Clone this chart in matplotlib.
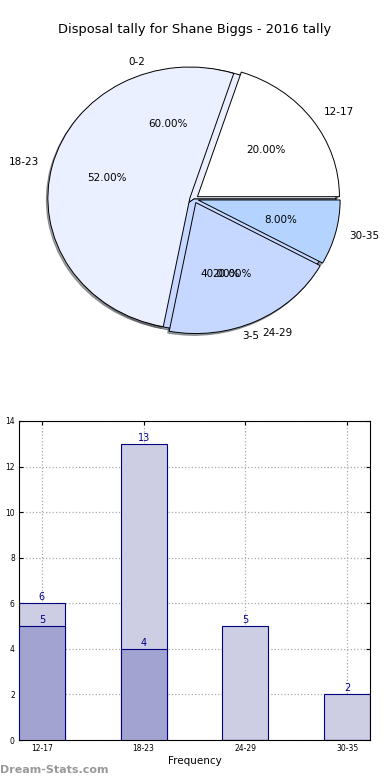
import matplotlib
matplotlib.use("Agg")
import matplotlib.pyplot as plt
import numpy as np

title = "Disposal tally for Shane Biggs - 2016 tally"

# inner pie (hidden underneath)
inner_labels = ["0-2", "3-5"]
inner_sizes = [60, 40]

# outer pie
outer_labels = ["12-17", "18-23", "24-29", "30-35"]
outer_sizes = [20, 52, 20, 8]
pie_colors = ["#ffffff", "#eaf0ff", "#c6d8ff", "#b4d4ff"]

# bars
categories = ["12-17", "18-23", "24-29", "30-35"]
tally_light = [6, 13, 5, 2]
tally_dark = [5, 4, 0, 0]

fig = plt.figure(figsize=(3.9, 7.8), dpi=100)
fig.text(0.5, 1 - 30 / 780, title, ha="center", va="center", fontsize=9.4)

# ---- pie ----
W, H = 390.0, 780.0
cx, cy = 194, 199
rx, ry = 142, 131
lim = 1.2
ax1 = fig.add_axes([(cx - lim * rx) / W, (H - cy - lim * ry) / H,
                    2 * lim * rx / W, 2 * lim * ry / H])
shadow = dict(ox=-0.008, oy=-0.01)
ax1.pie(inner_sizes, labels=inner_labels, colors=pie_colors[1:3],
        autopct="%.2f%%", startangle=0, shadow=shadow,
        wedgeprops=dict(edgecolor="black", linewidth=0.7),
        textprops=dict(fontsize=7.5))
ax1.pie(outer_sizes, labels=outer_labels, colors=pie_colors,
        autopct="%.2f%%", startangle=0, shadow=shadow,
        explode=[0.03, 0.03, 0.03, 0.03],
        wedgeprops=dict(edgecolor="black", linewidth=0.7),
        textprops=dict(fontsize=7.5))
ax1.set_aspect("auto")
ax1.set_xlim(-lim, lim)
ax1.set_ylim(-lim, lim)

# ---- bars ----
ax2 = fig.add_axes([19 / W, (H - 740) / H, (370 - 19) / W, (740 - 421) / H])
x = np.arange(len(categories))
w = 0.45
ax2.bar(x, tally_light, width=w, color="#cdcde4", edgecolor="#000080", linewidth=0.8, zorder=2)
ax2.bar(x, tally_dark, width=w, color="#a3a3d1", edgecolor="#000080", linewidth=0.8, zorder=3)
for xi, v in zip(x, tally_light):
    ax2.text(xi, v + 0.05, str(v), ha="center", va="bottom", color="#00008b", fontsize=7, zorder=4)
for xi, v in zip(x, tally_dark):
    if v > 0:
        ax2.text(xi, v + 0.05, str(v), ha="center", va="bottom", color="#00008b", fontsize=7, zorder=4)
ax2.set_xlim(-w / 2, len(categories) - 1 + w / 2)
ax2.set_ylim(0, 14)
ax2.set_yticks(range(0, 15, 2))
ax2.set_xticks(x)
ax2.set_xticklabels(categories)
ax2.tick_params(labelsize=5.5, direction="in", top=True, right=True, length=3, pad=3)
ax2.grid(True, linestyle=":", color="#aaaaaa", linewidth=0.9, zorder=0)
ax2.set_axisbelow(True)
ax2.set_xlabel("Frequency", fontsize=7.5, labelpad=2)
ax2.set_ylabel("Disposal tally", fontsize=7.5)
ax2.yaxis.set_label_coords(-0.055, 0.5)

fig.text(0.0, 1 - 770 / 780, "Dream-Stats.com", ha="left", va="center",
         fontsize=8, color="#999999", fontweight="bold")

fig.savefig("out.png", dpi=100)
